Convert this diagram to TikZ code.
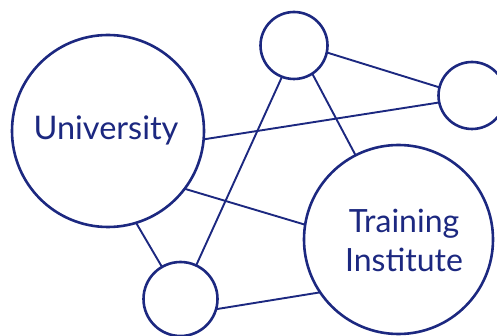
\documentclass[tikz,border=0pt]{standalone}
\usepackage{fontspec}
\setmainfont{Lato}
\definecolor{navy}{RGB}{28,40,128}
\begin{document}
\begin{tikzpicture}[x=1pt,y=-1pt,
  bub/.style={circle,draw=navy,line width=2.6pt,inner sep=0pt,outer sep=0pt,fill=white},
  link/.style={draw=navy,line width=1.9pt},
  lbl/.style={text=navy,anchor=base,inner sep=0pt}]
\useasboundingbox (0,0) rectangle (497,336);
\node[bub,minimum size=192pt] (uni) at (108,131) {};
\node[bub,minimum size=67pt] (top) at (294,45.5) {};
\node[bub,minimum size=67pt] (rgt) at (472,95.5) {};
\node[bub,minimum size=189pt] (tri) at (398.5,239.5) {};
\node[bub,minimum size=74pt] (bot) at (180.5,299) {};
\draw[link] (top.-12.8) -- (rgt.166.7);
\draw[link] (uni.-5.4) -- (rgt.192.3);
\draw[link] (top.-57.3) -- (tri.117.2);
\draw[link] (top.249.4) -- (bot.65);
\draw[link] (uni.-37.8) -- (tri.171.2);
\draw[link] (uni.-73.8) -- (bot.120.2);
\draw[link] (bot.-16.9) -- (tri.214);
\node[lbl,font=\fontsize{32.5}{38}\selectfont] (unilbl) at (106,139.3) {University};
\node[lbl,font=\fontsize{32}{38}\selectfont] (trilbl1) at (404,233) {Training};
\node[lbl,font=\fontsize{32}{38}\selectfont] (trilbl2) at (404,271.7) {Institute};
\end{tikzpicture}
\end{document}
